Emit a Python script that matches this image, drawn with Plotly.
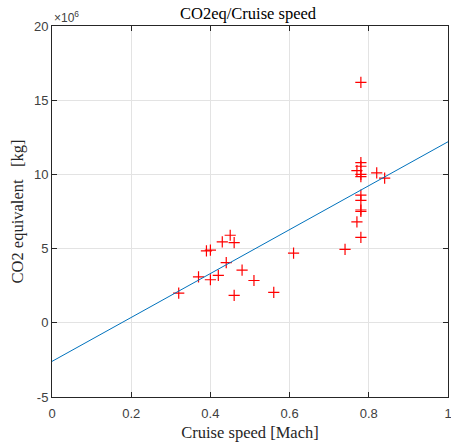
import plotly.graph_objects as go

# Data (CO2 equivalent in units of 1e6 kg)
speed_mach = [0.32, 0.37, 0.40, 0.39, 0.40, 0.42, 0.43, 0.45, 0.46, 0.44, 0.46, 0.48, 0.51, 0.56, 0.61,
              0.74, 0.78, 0.78, 0.78, 0.77, 0.78, 0.78, 0.82, 0.84, 0.78, 0.78, 0.78, 0.78, 0.77, 0.78]
co2_eq = [2.0, 3.1, 2.9, 4.85, 4.9, 3.2, 5.45, 5.9, 5.4, 4.05, 1.85, 3.55, 2.85, 2.05, 4.7,
          4.95, 16.2, 10.8, 10.55, 10.25, 10.0, 9.85, 10.1, 9.75, 8.6, 8.25, 7.5, 7.6, 6.8, 5.75]

fit_x = [0.0, 1.0]
fit_y = [-2.6, 12.2]

x_ticks = [0, 0.2, 0.4, 0.6, 0.8, 1]
x_tick_text = ["0", "0.2", "0.4", "0.6", "0.8", "1"]
y_ticks = [-5, 0, 5, 10, 15, 20]
y_tick_text = ["-5", "0", "5", "10", "15", "20"]

axis_col = "#262626"
label_col = "#404040"
serif = "Liberation Serif, DejaVu Serif, serif"
sans = "Liberation Sans, Arial, sans-serif"

fig = go.Figure()
fig.add_trace(go.Scatter(x=speed_mach, y=co2_eq, mode="markers",
                         marker=dict(symbol="cross-thin", size=8, color="red",
                                     line=dict(color="red", width=1.2)),
                         showlegend=False))
fig.add_trace(go.Scatter(x=fit_x, y=fit_y, mode="lines",
                         line=dict(color="#0072BD", width=1), showlegend=False))

axis_common = dict(showline=True, linecolor=axis_col, linewidth=1, mirror="allticks",
                   ticks="inside", ticklen=5, tickcolor=axis_col, automargin=False,
                   showgrid=True, gridcolor="#e3e3e3", gridwidth=1, zeroline=False,
                   ticklabeloverflow="allow",
                   tickfont=dict(family=sans, size=13, color=label_col))

fig.update_xaxes(range=[0, 1], tickvals=x_ticks, ticktext=x_tick_text, ticklabelstandoff=4,
                 title=dict(text="Cruise speed [Mach]", font=dict(family=serif, size=16.5, color=axis_col),
                            standoff=6),
                 **axis_common)
fig.update_yaxes(range=[-5, 20], tickvals=y_ticks, ticktext=y_tick_text,
                 title=dict(text="CO2 equivalent \u00a0\u00a0[kg]",
                            font=dict(family=serif, size=16.5, color=axis_col),
                            standoff=6),
                 **axis_common)

fig.add_annotation(text="×10<sup>6</sup>", xref="paper", yref="paper", x=0, y=1,
                   xanchor="left", yanchor="bottom", showarrow=False, yshift=-1,
                   font=dict(family=sans, size=12, color=label_col))

fig.update_layout(
    width=451, height=447,
    margin=dict(l=52, r=3, t=26, b=50, autoexpand=False),
    paper_bgcolor="white", plot_bgcolor="white",
    title=dict(text="CO2eq/Cruise speed", x=0.55, xanchor="center", y=0.971, yanchor="middle",
               font=dict(family=serif, size=16.5, color="black")),
)

fig.write_html("out.html", config={"displayModeBar": False},
               post_script="document.body.style.margin='0';document.body.style.overflow='hidden';")
